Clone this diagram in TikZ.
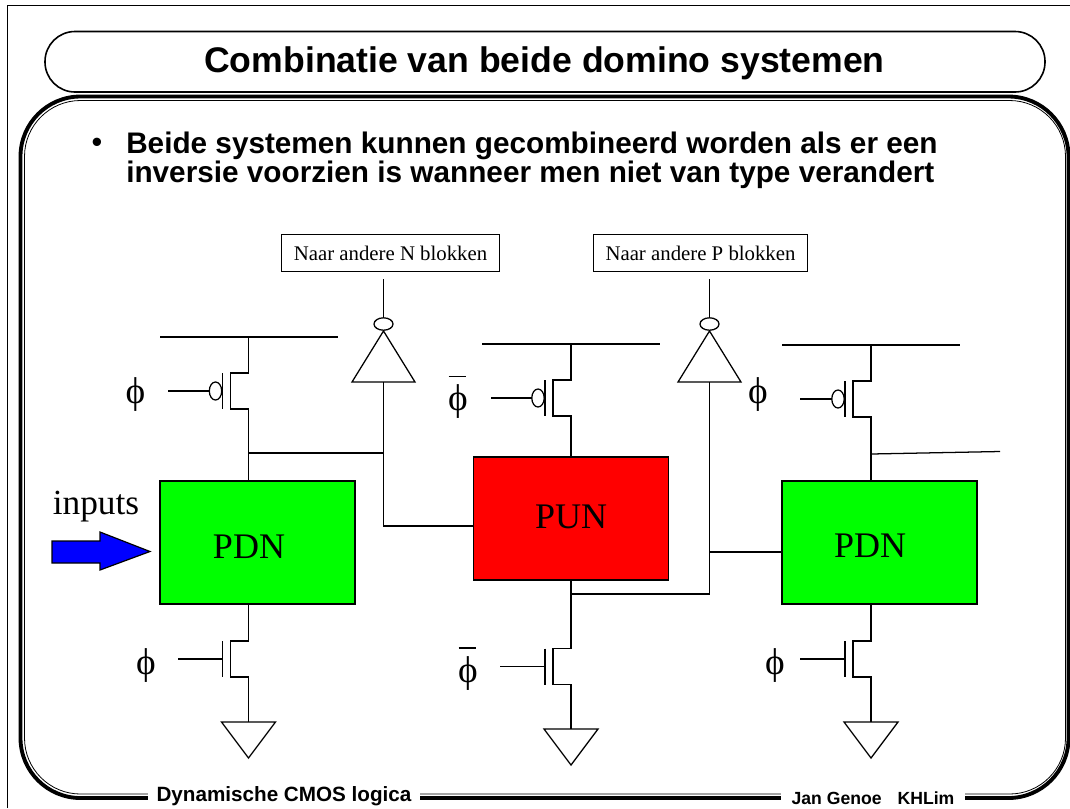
\documentclass[tikz,border=0pt]{standalone}
\usepackage{fontspec}
\setmainfont{Liberation Serif}
\newfontfamily\hv{Liberation Sans}
\usetikzlibrary{calc}
\newcommand{\sz}[2]{\fontsize{#1}{#2}\selectfont}
\definecolor{pgreen}{RGB}{0,255,0}
\definecolor{pblue}{RGB}{0,0,255}
\tikzset{
  wire/.style={line width=.95pt,black},
  block/.style={draw=black,line width=.9pt,minimum width=146.25pt,minimum height=92.25pt,inner sep=0pt},
  blocklabel/.style={font=\sz{27}{27},inner sep=0pt},
  tagbox/.style={draw=black,fill=white,line width=.9pt,font=\sz{15.6}{15.6},inner sep=0pt,minimum height=28pt},
  philabel/.style={font=\sz{28}{28},inner sep=0pt},
  footer/.style={fill=white,inner sep=0pt,text=black},
  nmos/.pic={
    \draw[wire] (0,-36) coordinate (-d) -- (0,-18) -- (-18,-18) -- (-18,18) -- (0,18) -- (0,36) coordinate (-s);
    \draw[wire] (-26,-18) -- (-26,18);
    \coordinate (-g) at (-26,0);
  },
  pmos/.pic={
    \draw[wire] (0,-36) coordinate (-d) -- (0,-18) -- (-18,-18) -- (-18,18) -- (0,18) -- (0,36) coordinate (-s);
    \draw[wire] (-26,-18) -- (-26,18);
    \draw[wire] (-33,0) ellipse [x radius=6.2,y radius=9];
    \coordinate (-g) at (-39.2,0);
  },
  gnd/.pic={
    \draw[wire,line join=miter] (-27,0) -- (27,0) -- (0,36) -- cycle;
    \coordinate (-t) at (0,0);
  },
  inverter/.pic={
    \draw[wire] (0,7) -- (-31.5,58) -- (31.5,58) -- cycle;
    \draw[wire] (0,0) ellipse [x radius=9.5,y radius=6.2];
    \coordinate (-top) at (0,-6.2);
    \coordinate (-in) at (0,58);
  }
}
\begin{document}
\begin{tikzpicture}[x=.75pt,y=-.75pt]
\useasboundingbox (0,0) rectangle (1070,808);
% page frame
\draw[line width=.6pt] (7,808) -- (7,5) -- (1070,5);
% main frame
\draw[line width=2.9pt,rounded corners=45pt] (20.5,96.5) rectangle (1068.5,798);
\draw[line width=.6pt,rounded corners=42pt] (24.5,100.5) rectangle (1065.5,794);
% title
\draw[line width=1.2pt,fill=white,rounded corners=22.5pt] (45,31.5) rectangle (1045,92);
\node[font=\hv\bfseries\sz{26.7}{26.7},inner sep=0pt] (title) at (544.5,63.5) {Combinatie van beide domino systemen};
\node[font=\hv\sz{23}{23},anchor=base,inner sep=0pt] (bullet) at (97,152.5) {•};
\node[font=\hv\bfseries\sz{22.3}{20.2},anchor=north west,align=left,inner sep=0pt] (body) at (126,132) {Beide systemen kunnen gecombineerd worden als er een\\inversie voorzien is wanneer men niet van type verandert};
% footer
\node[footer,font=\hv\bfseries\sz{15.5}{15.5},minimum height=14pt,minimum width=204pt] (footl) at (284,796.5) {Dynamische CMOS logica};
\node[footer,font=\hv\bfseries\sz{13.2}{13.2},minimum height=14pt,minimum width=138pt] (footr) at (873,798) {Jan Genoe\hspace{12pt}KHLim};
% blocks
\node[block,fill=pgreen] (pdnA) at (257.5,542.5) {};
\node[block,fill=red] (pun) at (571,518.5) {};
\node[block,fill=pgreen] (pdnB) at (879.5,542.5) {};
\node[blocklabel] (pdnAt) at (249,547) {PDN};
\node[blocklabel] (punt) at (571,517) {PUN};
\node[blocklabel] (pdnBt) at (870,546) {PDN};
\node[font=\sz{26.5}{26.5},inner sep=0pt] (inp) at (96,507) {inputs};
% input arrow
\draw[line width=.9pt,fill=pblue,line join=miter] (52,541) -- (100,541) -- (100,532) -- (150,551.5) -- (100,570) -- (100,563) -- (52,563) -- cycle;
% tags
\node[tagbox,minimum width=163.5pt] (tagN) at (390.5,253) {Naar andere N blokken};
\node[tagbox,minimum width=161pt] (tagP) at (700.5,253) {Naar andere P blokken};
% rails
\coordinate (railAl) at (160,337); \coordinate (railAr) at (338,337);
\coordinate (railBl) at (482,344); \coordinate (railBr) at (660,344);
\coordinate (railCl) at (782,345); \coordinate (railCr) at (960,345);
\draw[wire] (railAl) -- (railAr);
\draw[wire] (railBl) -- (railBr);
\draw[wire] (railCl) -- (railCr);
% top transistors
\pic (pa) at (248.5,391) {pmos};
\pic (pb) at (571,398) {pmos};
\pic (pc) at (871,399) {pmos};
\coordinate (ga) at (168,391); \coordinate (gb) at (491,398); \coordinate (gc) at (800,399);
\draw[wire] (ga) -- (pa-g);
\draw[wire] (gb) -- (pb-g);
\draw[wire] (gc) -- (pc-g);
\draw[wire] (248.5,337) -- (pa-d);
\draw[wire] (pa-s) -- (248.5,481);
\draw[wire] (571,344) -- (pb-d);
\draw[wire] (pb-s) -- (pun.north);
\draw[wire] (871,345) -- (pc-d);
\draw[wire] (pc-s) -- (871,481);
% bottom transistors
\pic (na) at (248.5,659) {nmos};
\pic (nb) at (571,666.5) {nmos};
\pic (nc) at (871,659) {nmos};
\coordinate (hga) at (178,659); \coordinate (hgb) at (500,666.5); \coordinate (hgc) at (800,659);
\draw[wire] (hga) -- (na-g);
\draw[wire] (hgb) -- (nb-g);
\draw[wire] (hgc) -- (nc-g);
\draw[wire] (248.5,604.5) -- (na-d);
\draw[wire] (pun.south) -- (nb-d);
\draw[wire] (871,604.5) -- (nc-d);
% grounds
\pic (ea) at (248.5,722) {gnd};
\pic (eb) at (571,729) {gnd};
\pic (ec) at (871,722) {gnd};
\draw[wire] (na-s) -- (ea-t);
\draw[wire] (nb-s) -- (eb-t);
\draw[wire] (nc-s) -- (ec-t);
% inverters
\pic (ia) at (383.5,324) {inverter};
\pic (ib) at (709.5,324) {inverter};
\coordinate (oa) at (383.5,279); \coordinate (ob) at (709.5,279);
\draw[wire] (oa) -- (ia-top);
\draw[wire] (ob) -- (ib-top);
\draw[wire] (ia-in) -- (383.5,526) -- (473,526);
\draw[wire] (248.5,453) -- (383.5,453);
\draw[wire] (ib-in) -- (709.5,594) -- (571,594);
\draw[wire] (709.5,552) -- (782,552);
\draw[wire] (871,454) -- (1000,451.5);
% phi labels
\node[philabel] (p1) at (135.5,394.5) {ϕ};
\node[philabel] (p2) at (458,401.5) {ϕ};
\node[philabel] (p3) at (758,394.5) {ϕ};
\node[philabel] (p4) at (146,665.5) {ϕ};
\node[philabel] (p5) at (468,673.5) {ϕ};
\node[philabel] (p6) at (775,665.5) {ϕ};
\draw[wire] (448.5,376.5) -- (466,376.5);
\draw[wire] (458.5,648) -- (476,648);
\end{tikzpicture}
\end{document}
